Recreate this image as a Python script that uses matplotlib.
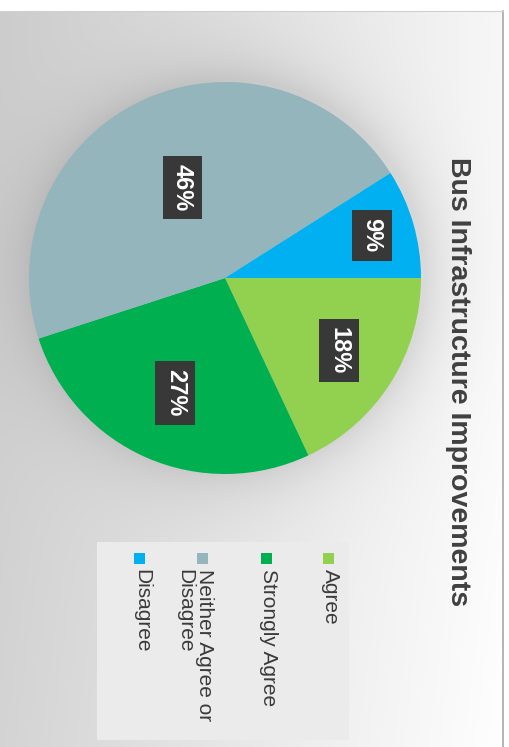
import numpy as np
import matplotlib.pyplot as plt
from matplotlib.patches import Rectangle

plt.rcParams['font.family'] = ['Liberation Sans', 'DejaVu Sans']

# data
labels = ['Agree', 'Strongly Agree', 'Neither Agree or\nDisagree', 'Disagree']
shares = [18, 27, 46, 9]
colors = ['#92D050', '#00B050', '#93B5BB', '#00B0F0']
title = 'Bus Infrastructure Improvements'

W, H = 510, 747
fig = plt.figure(figsize=(W / 100, H / 100), dpi=100)

# background panel (pixel coords, chart is rotated 90 deg clockwise)
bg = fig.add_axes([0, 0, 1, 1])
bg.set_xlim(0, W)
bg.set_ylim(H, 0)
bg.axis('off')
yy, xx = np.mgrid[0:H, 0:W]
val = 0.80 + 0.17 * (xx / W) + 0.03 * (yy / H)
cx, cy, R = 225, 278, 196
r = np.hypot(xx - cx - 4, yy - cy + 4)
val -= 0.10 * np.exp(-np.clip(r - R, 0, None) / 30.0)
val = np.clip(val, 0, 1)
img = np.dstack([val, val, val])
img[:11, :, :] = 1.0
img[:, 504:, :] = 1.0
bg.imshow(img, extent=(0, W, H, 0), aspect='auto', zorder=0)
bg.plot([503, 503], [11, H], color='#a8a8a8', lw=1.2, zorder=1)
bg.plot([0, 503], [11, 11], color='#d0d0d0', lw=0.8, zorder=1)

# title
bg.text(458, 382, title, rotation=-90, ha='center', va='center',
        fontsize=20.5, fontweight='bold', color='#404040', zorder=3)

# legend
bg.add_patch(Rectangle((97, 542), 252, 198, fc='#ebebeb', ec='none', zorder=2))
leg_x = [329, 267, 203, 140]
for lx, lab, col in zip(leg_x, labels, colors):
    bg.add_patch(Rectangle((lx - 5.5, 553), 11, 11, fc=col, ec='none', zorder=3))
    bg.text(lx + 11, 569, lab, rotation=-90, rotation_mode='anchor',
            ha='left', va='top', fontsize=15, color='#3a3a3a',
            linespacing=1.02, zorder=3)

# pie
ax = fig.add_axes([(cx - R) / W, (H - cy - R) / H, 2 * R / W, 2 * R / H])
wedges, _, autotexts = ax.pie(shares, colors=colors, startangle=0, counterclock=False,
                              autopct='%1.0f%%', radius=1,
                              wedgeprops=dict(linewidth=0))
ax.set_xlim(-1, 1)
ax.set_ylim(-1, 1)
ax.set_aspect('auto')
ax.axis('off')

label_r = [0.69, 0.64, 0.51, 0.78]
for w, t, lr in zip(wedges, autotexts, label_r):
    mid = np.deg2rad((w.theta1 + w.theta2) / 2)
    t.set_position((lr * np.cos(mid), lr * np.sin(mid)))
    t.set_rotation(-90)
    t.set_ha('center')
    t.set_va('center')
    t.set_color('white')
    t.set_fontsize(17)
    t.set_fontweight('bold')
    t.set_bbox(dict(boxstyle='square,pad=0.35', fc='#383838', ec='none'))

fig.savefig('out.png', dpi=100)
